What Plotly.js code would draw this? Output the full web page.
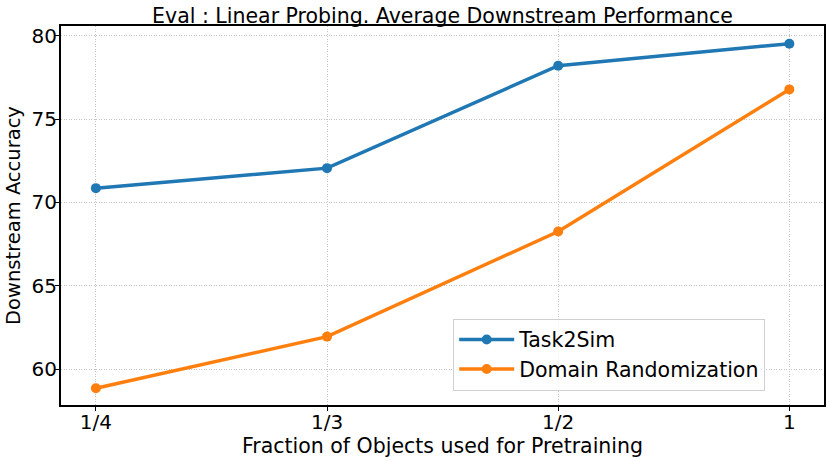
<!DOCTYPE html>
<html>
<head>
<meta charset="utf-8">
<script src="https://cdn.plot.ly/plotly-3.0.1.min.js"></script>
<style>
  html, body { margin: 0; padding: 0; background: #fff; }
  #chart { width: 830px; height: 461px; }
</style>
</head>
<body>
<div id="chart"></div>
<script>
"use strict";

// data
const FRACTIONS = ["1/4", "1/3", "1/2", "1"];
const TASK2SIM = [70.86, 72.06, 78.2, 79.52];
const DOMAIN_RAND = [58.86, 61.96, 68.26, 76.78];
const Y_TICKS = [60, 65, 70, 75, 80];

const FONT = "DejaVu Sans, sans-serif";
const xIdx = FRACTIONS.map((_, i) => i);

function series(name, y, color) {
  return {
    x: xIdx, y: y, name: name,
    mode: "lines+markers",
    line: { color: color, width: 3.5 },
    marker: { color: color, size: 10 },
  };
}

const data = [
  series("Task2Sim", TASK2SIM, "#1f77b4"),
  series("Domain Randomization", DOMAIN_RAND, "#ff7f0e"),
];

const axisCommon = {
  showline: true, mirror: true, linecolor: "#000", linewidth: 2,
  ticks: "outside", ticklen: 4, tickwidth: 1, tickcolor: "#000",
  showgrid: true, gridcolor: "#c4c4c4", griddash: "1px,1.5px", gridwidth: 1,
  zeroline: false,
  tickfont: { family: FONT, size: 20, color: "#000" },
};

const layout = {
  width: 830, height: 461,
  margin: { l: 61, r: 6, t: 26, b: 56 },
  paper_bgcolor: "#fff", plot_bgcolor: "#fff",
  font: { family: FONT, color: "#000" },
  title: {
    text: "Eval : Linear Probing. Average Downstream Performance",
    font: { family: FONT, size: 20.5, color: "#000" },
    x: 0.5, xref: "paper", xanchor: "center",
    y: 0.965, yref: "container", yanchor: "middle",
  },
  xaxis: Object.assign({}, axisCommon, {
    range: [-0.151, 3.15],
    tickvals: xIdx, ticktext: FRACTIONS,
    ticklabelstandoff: -6,
    title: { text: "Fraction of Objects used for Pretraining", font: { family: FONT, size: 20.5, color: "#000" }, standoff: 0 },
  }),
  yaxis: Object.assign({}, axisCommon, {
    range: [57.86, 80.58],
    tickvals: Y_TICKS,
    ticklabelstandoff: -6,
    title: { text: "Downstream Accuracy", font: { family: FONT, size: 19.5, color: "#000" }, standoff: 6 },
  }),
  legend: {
    x: 0.514, y: 0.228, xanchor: "left", yanchor: "top",
    bgcolor: "rgba(255,255,255,0.8)", bordercolor: "#d0d0d0", borderwidth: 1,
    font: { family: FONT, size: 20.5, color: "#000" },
    itemwidth: 55,
    tracegroupgap: 0,
  },
  showlegend: true,
};

Plotly.newPlot("chart", data, layout, { displayModeBar: false, staticPlot: true });
</script>
</body>
</html>
